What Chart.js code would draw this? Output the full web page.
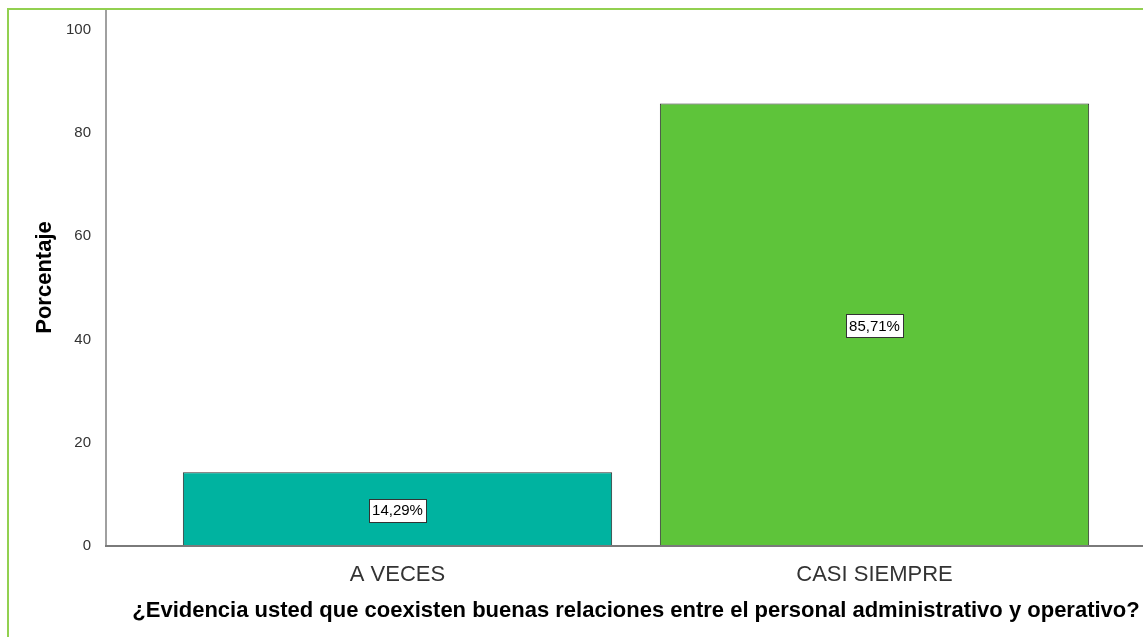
<!DOCTYPE html>
<html>
<head>
<meta charset="utf-8">
<script src="https://cdn.jsdelivr.net/npm/chart.js@4.4.1/dist/chart.umd.min.js"></script>
<style>
  html, body { margin: 0; padding: 0; background: #ffffff; }
  #wrap { width: 1143px; height: 637px; position: relative; }
</style>
</head>
<body>
<div id="wrap"><canvas id="c" width="1143" height="637"></canvas></div>
<script>
// Response categories and their percentages
const categories = ['A VECES', 'CASI SIEMPRE'];
const percentages = [14.29, 85.71];
const barColors = ['#00b3a0', '#5ec43a'];
const yTicks = [0, 20, 40, 60, 80, 100];
const yTitle = 'Porcentaje';
const xTitle = '¿Evidencia usted que coexisten buenas relaciones entre el personal administrativo y operativo?';

const FONT = "'Liberation Sans', Arial, sans-serif";

// Frame, axis lines, x-axis question title and boxed value labels
const decorations = {
  id: 'decorations',
  afterDatasetsDraw(chart) {
    const ctx = chart.ctx;
    const area = chart.chartArea;
    const y0 = chart.scales.y.getPixelForValue(0);
    const axisX = 106;
    ctx.save();
    // outer green frame (top and left edges)
    ctx.strokeStyle = '#92d050';
    ctx.lineWidth = 2;
    ctx.beginPath();
    ctx.moveTo(8, chart.height);
    ctx.lineTo(8, 9);
    ctx.lineTo(chart.width, 9);
    ctx.stroke();
    // y axis line
    ctx.strokeStyle = '#a0a0a0';
    ctx.lineWidth = 2;
    ctx.beginPath();
    ctx.moveTo(axisX, 10);
    ctx.lineTo(axisX, y0);
    ctx.stroke();
    // x axis line
    ctx.strokeStyle = '#7a7a7a';
    ctx.beginPath();
    ctx.moveTo(axisX - 1, y0);
    ctx.lineTo(chart.width, y0);
    ctx.stroke();

    // x axis title, allowed to run wider than the plot area
    ctx.fillStyle = '#000000';
    ctx.font = 'bold 22px ' + FONT;
    ctx.textAlign = 'center';
    ctx.textBaseline = 'middle';
    ctx.fillText(xTitle, (area.left + area.right) / 2, 611);

    // value labels in white boxes at the middle of each bar
    const meta = chart.getDatasetMeta(0);
    ctx.font = '15px ' + FONT;
    meta.data.forEach((bar, i) => {
      const p = bar.getProps(['x', 'y', 'base'], true);
      const cy = (p.y + p.base) / 2 + 1;
      const text = percentages[i].toFixed(2).replace('.', ',') + '%';
      const w = Math.round(ctx.measureText(text).width) + 6;
      const h = 23;
      const bx = Math.round(p.x - w / 2) + 0.5;
      const by = Math.round(cy - h / 2) + 0.5;
      ctx.fillStyle = '#ffffff';
      ctx.fillRect(bx, by, w, h);
      ctx.strokeStyle = '#333333';
      ctx.lineWidth = 1;
      ctx.strokeRect(bx, by, w, h);
      ctx.fillStyle = '#000000';
      ctx.fillText(text, p.x, cy + 1);
    });
    ctx.restore();
  }
};

new Chart(document.getElementById('c'), {
  type: 'bar',
  data: {
    labels: categories,
    datasets: [{
      data: percentages,
      backgroundColor: barColors,
      borderColor: '#2e2e2e',
      borderWidth: 1,
      borderSkipped: false,
      barPercentage: 0.9,
      categoryPercentage: 1.0
    }]
  },
  options: {
    responsive: false,
    animation: false,
    layout: { padding: { left: 0, right: 30, top: 9, bottom: 0 } },
    plugins: { legend: { display: false }, tooltip: { enabled: false } },
    scales: {
      x: {
        grid: { display: false },
        border: { display: false },
        ticks: { color: '#333333', font: { family: FONT, size: 22 }, padding: 8 },
        title: { display: false },
        afterFit(scale) { scale.height = 91; }
      },
      y: {
        min: 0,
        max: 104,
        grid: { display: false },
        border: { display: false },
        afterBuildTicks(scale) { scale.ticks = yTicks.map(v => ({ value: v })); },
        ticks: { color: '#333333', font: { family: FONT, size: 15 }, padding: 60 },
        title: {
          display: true,
          text: yTitle,
          color: '#000000',
          font: { family: FONT, size: 22, weight: 'bold' },
          padding: { top: 32, bottom: 0 }
        },
        afterFit(scale) {
          scale.width = 159;
          scale.paddingTop = 0;
          scale.paddingBottom = 0;
        }
      }
    }
  },
  plugins: [decorations]
});
</script>
</body>
</html>
